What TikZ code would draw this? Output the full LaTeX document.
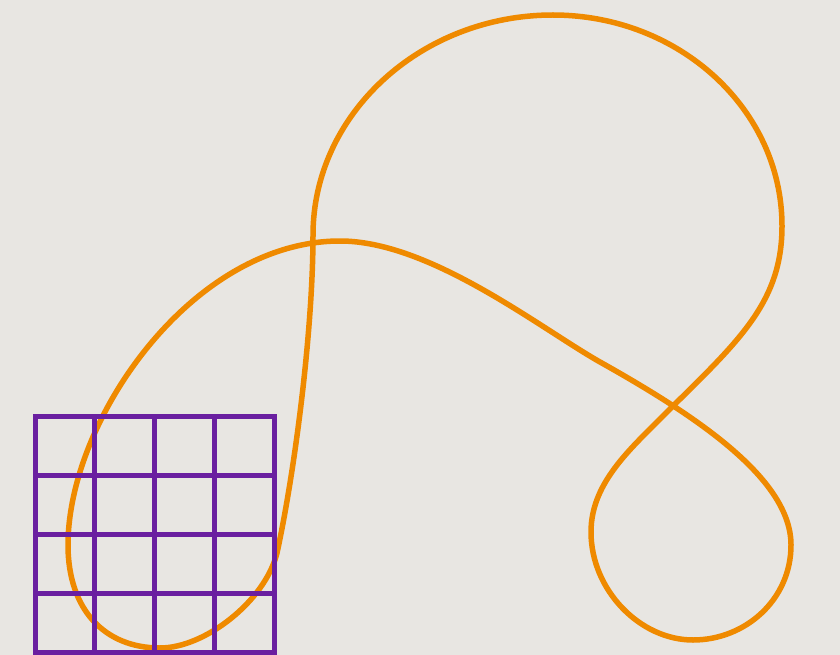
\documentclass[tikz,border=0pt]{standalone}
\definecolor{bgc}{RGB}{232,230,226}
\definecolor{orangec}{RGB}{239,138,0}
\definecolor{purplec}{RGB}{106,31,160}
\tikzset{
  curveline/.style={draw=orangec, line width=5.5pt},
  gridline/.style={draw=purplec, line width=5pt}
}
\begin{document}
\begin{tikzpicture}[x=1pt,y=-1pt]
\fill[bgc] (0,0) rectangle (840,655);
\useasboundingbox (0,0) rectangle (840,655);
\draw[curveline] (160,648)
  .. controls (105,648) and (68,610) .. (68,545)
  .. controls (68,420) and (192,241) .. (340,241)
  .. controls (430,241) and (540,328) .. (600,362)
  .. controls (700,418) and (791,480) .. (791,545)
  .. controls (791,600) and (745,640) .. (693,640)
  .. controls (640,640) and (591,590) .. (591,532)
  .. controls (591,480) and (635,445) .. (673,406)
  .. controls (742,338) and (782,300) .. (782,226)
  .. controls (782,109) and (679,15) .. (553,15)
  .. controls (421,15) and (313,114) .. (313,235)
  .. controls (313,330) and (295,470) .. (277,553)
  .. controls (265,601) and (205,648) .. (160,648) -- cycle;
\foreach \x in {94.75,154.5,214.25}
  \draw[gridline] (\x,416) -- (\x,652);
\foreach \y in {475,534,593}
  \draw[gridline] (35,\y) -- (274,\y);
\draw[gridline] (35,416) rectangle (274,652);
\end{tikzpicture}
\end{document}
